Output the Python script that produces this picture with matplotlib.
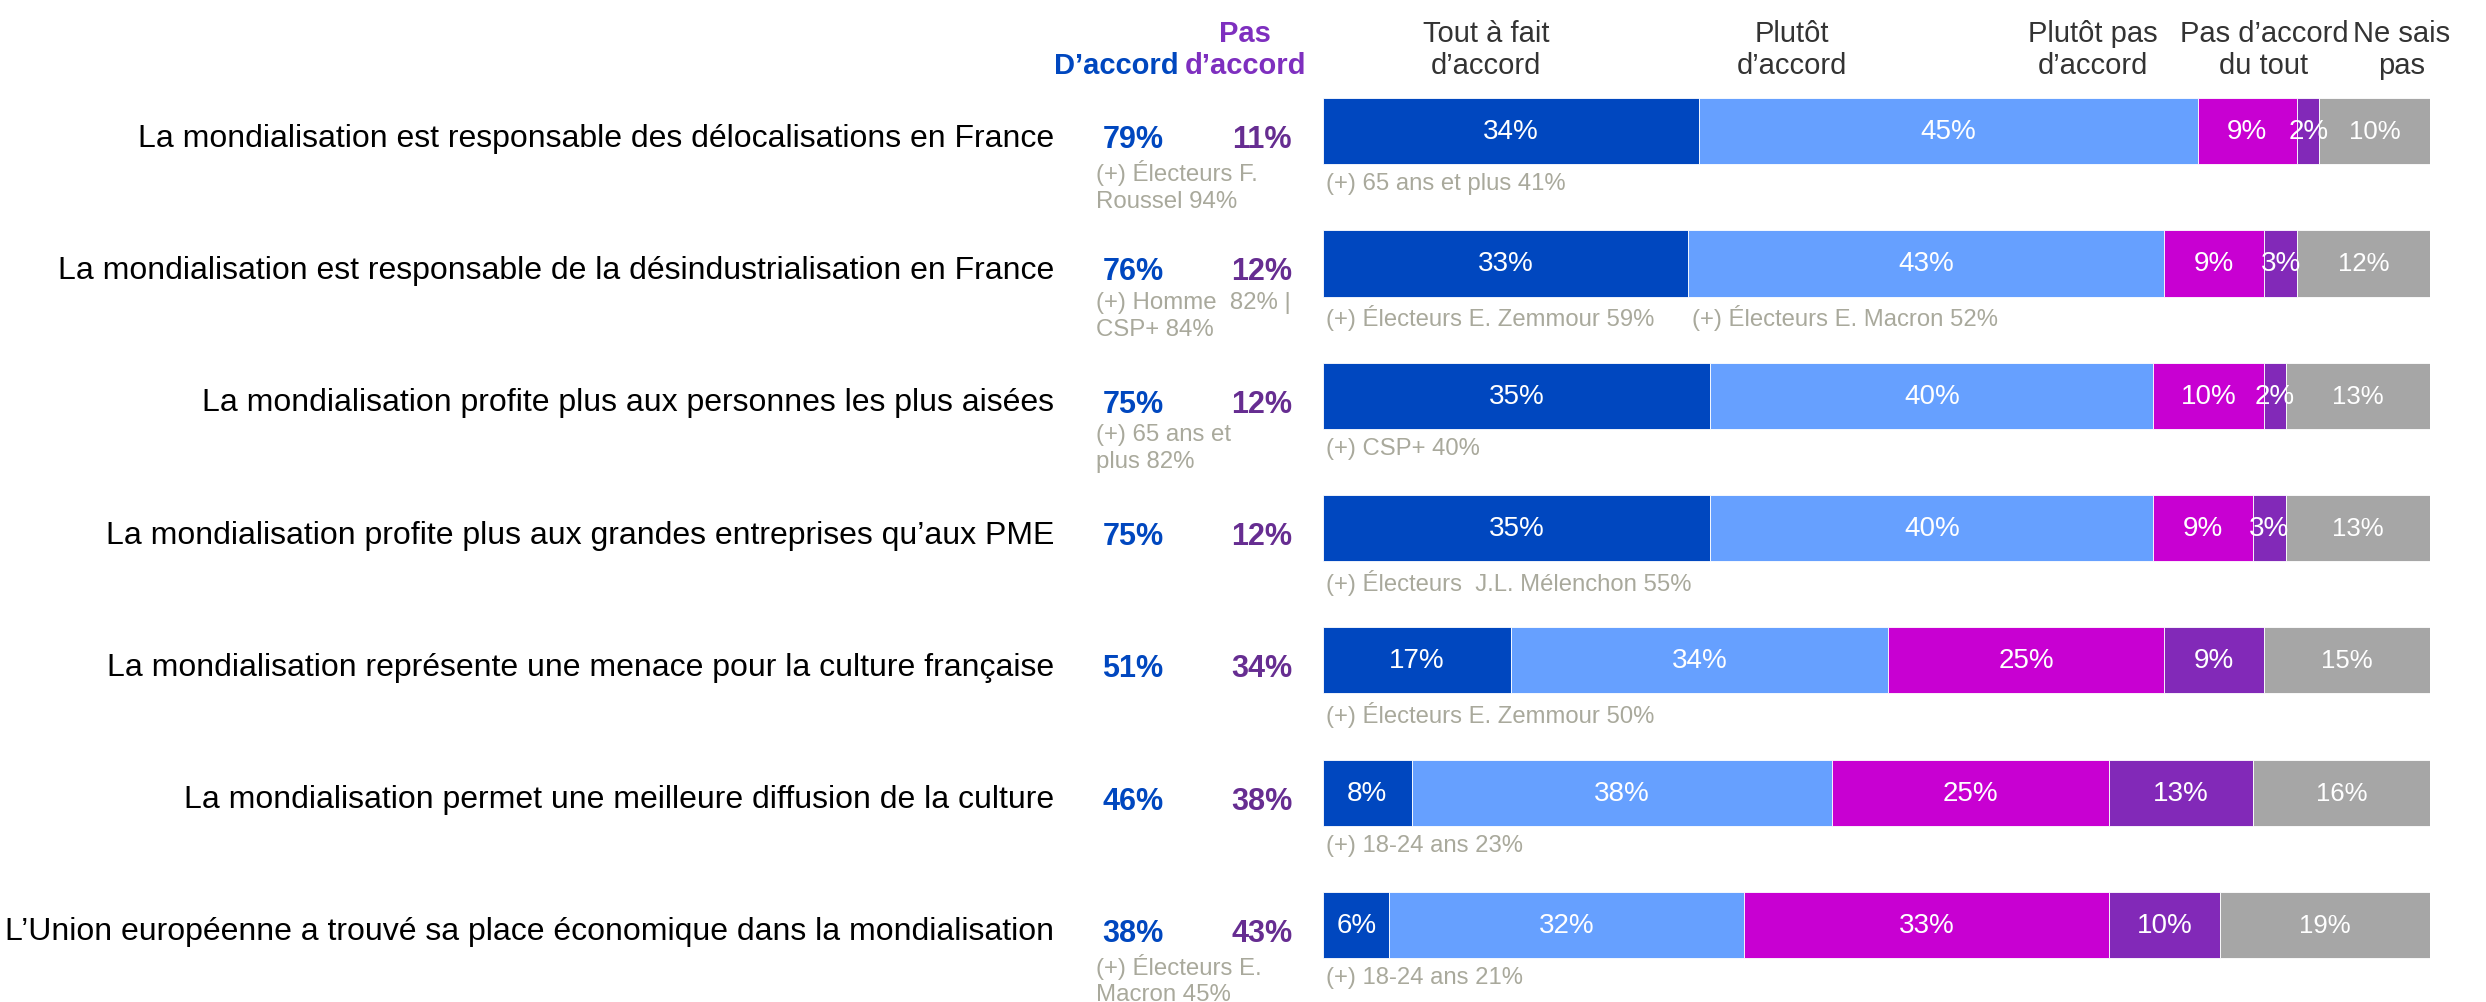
import matplotlib.pyplot as plt
import matplotlib.transforms as mtransforms
import numpy as np

plt.rcParams['font.family'] = ['Liberation Sans', 'DejaVu Sans']

statements = [
    "La mondialisation est responsable des délocalisations en France",
    "La mondialisation est responsable de la désindustrialisation en France",
    "La mondialisation profite plus aux personnes les plus aisées",
    "La mondialisation profite plus aux grandes entreprises qu\u2019aux PME",
    "La mondialisation représente une menace pour la culture française",
    "La mondialisation permet une meilleure diffusion de la culture",
    "L\u2019Union européenne a trouvé sa place économique dans la mondialisation",
]
answers = ["Tout à fait\nd\u2019accord", "Plutôt\nd\u2019accord", "Plutôt pas\nd\u2019accord",
           "Pas d\u2019accord\ndu tout", "Ne sais\npas"]
tout_a_fait = [34, 33, 35, 35, 17, 8, 6]
plutot = [45, 43, 40, 40, 34, 38, 32]
plutot_pas = [9, 9, 10, 9, 25, 25, 33]
pas_du_tout = [2, 3, 2, 3, 9, 13, 10]
ne_sais_pas = [10, 12, 13, 13, 15, 16, 19]
total_accord = [79, 76, 75, 75, 51, 46, 38]
total_pas_accord = [11, 12, 12, 12, 34, 38, 43]
left_notes = [
    "(+) Électeurs F.\nRoussel 94%",
    "(+) Homme  82% |\nCSP+ 84%",
    "(+) 65 ans et\nplus 82%",
    "",
    "",
    "",
    "(+) Électeurs E.\nMacron 45%",
]
# (row, segment index where note starts, text)
bar_notes = [
    (0, 0, "(+) 65 ans et plus 41%"),
    (1, 0, "(+) Électeurs E. Zemmour 59%"),
    (1, 1, "(+) Électeurs E. Macron 52%"),
    (2, 0, "(+) CSP+ 40%"),
    (3, 0, "(+) Électeurs  J.L. Mélenchon 55%"),
    (4, 0, "(+) Électeurs E. Zemmour 50%"),
    (5, 0, "(+) 18-24 ans 23%"),
    (6, 0, "(+) 18-24 ans 21%"),
]

colors = ["#0047BF", "#66A0FF", "#C800D2", "#8229B8", "#A6A6A6"]
note_color = "#A9A99C"
header_color = "#333333"

W, H = 2486, 1003
fig = plt.figure(figsize=(W / 100, H / 100), dpi=100)
ax = fig.add_axes([1323 / W, 1 - 992 / H, (2430 - 1323) / W, 926 / H])

series = np.array([tout_a_fait, plutot, plutot_pas, pas_du_tout, ne_sais_pas], dtype=float)
y = np.arange(len(statements))
left = np.zeros(len(statements))
for k in range(series.shape[0]):
    ax.barh(y, series[k], left=left, height=0.5, color=colors[k], edgecolor="white", linewidth=0.6)
    for i in range(len(statements)):
        ax.text(left[i] + series[k][i] / 2, y[i], f"{int(series[k][i])}%", ha="center", va="center",
                color="white", fontsize=20 if k < 4 else 18.5)
    left += series[k]

ax.set_xlim(0, 100)
ax.set_ylim(6.5, -0.5)
ax.axis("off")

# blended transform: x in figure pixels, y in row units
tr = mtransforms.blended_transform_factory(fig.transFigure, ax.transData)
for i in range(len(statements)):
    ax.text(1054 / W, y[i] + 0.05, statements[i], transform=tr, ha="right", va="center", fontsize=23, color="black")
    ax.text(1133 / W, y[i] + 0.06, f"{total_accord[i]}%", transform=tr, ha="center", va="center",
            fontsize=22, fontweight="bold", color="#0047BF")
    ax.text(1262 / W, y[i] + 0.06, f"{total_pas_accord[i]}%", transform=tr, ha="center", va="center",
            fontsize=22, fontweight="bold", color="#662D91")
    if left_notes[i]:
        ax.text(1096 / W, y[i] + 0.21, left_notes[i], transform=tr, ha="left", va="top",
                fontsize=17.3, color=note_color, linespacing=1.28)

starts = np.vstack([np.zeros(len(statements)), np.cumsum(series, axis=0)[:-1]])
for row, seg, txt in bar_notes:
    ax.text(starts[seg][row] + 0.3, row + 0.31, txt, ha="left", va="top", fontsize=17.2, color=note_color)

# column headers
header_x = [1486, 1792, 2093, 2264, 2402]
for hx, lab in zip(header_x, answers):
    fig.text(hx / W, 1 - 50 / H, lab, ha="center", va="center", fontsize=21, color=header_color,
             linespacing=1.2)
fig.text(1116 / W, 1 - 66 / H, "D\u2019accord", ha="center", va="center", fontsize=21,
         fontweight="bold", color="#0047BF")
fig.text(1245 / W, 1 - 50 / H, "Pas\nd\u2019accord", ha="center", va="center", fontsize=21,
         fontweight="bold", color="#7E2FBF", linespacing=1.2)

fig.savefig("out.png", dpi=100)
